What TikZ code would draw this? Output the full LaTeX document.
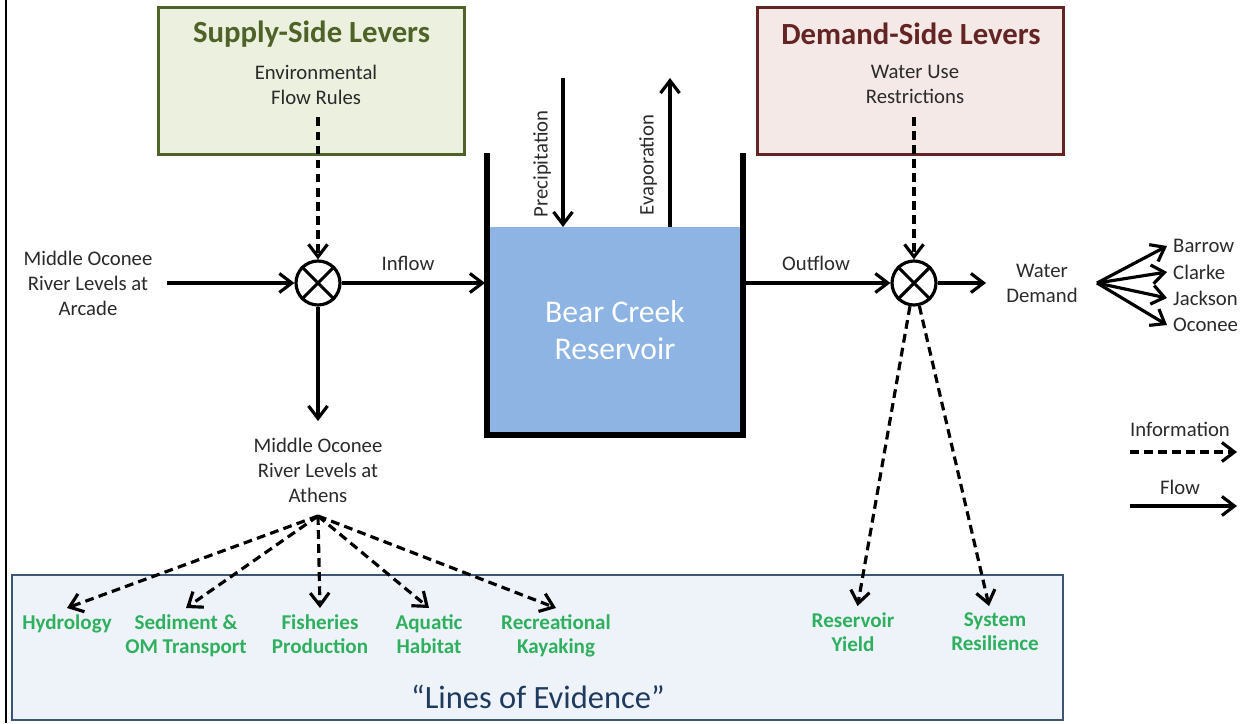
\documentclass[tikz,border=0pt]{standalone}
\usepackage{fontspec}
\setmainfont{Carlito}
\usetikzlibrary{arrows.meta}

\definecolor{supplyline}{HTML}{4F6228}
\definecolor{supplyfill}{HTML}{EBF1DE}
\definecolor{demandline}{HTML}{632523}
\definecolor{demandfill}{HTML}{F5E9E8}
\definecolor{evidline}{HTML}{3B5573}
\definecolor{evidfill}{HTML}{EEF3FA}
\definecolor{evidtext}{HTML}{1F3A5F}
\definecolor{evidgreen}{HTML}{2FB05E}
\definecolor{water}{HTML}{8DB4E2}
\definecolor{textgray}{HTML}{2A2A2A}

\tikzset{
    txt/.style={align=center, text=textgray, font=\fontsize{11.8}{14.2}\selectfont},
    title/.style={font=\fontsize{17.5}{20}\selectfont\bfseries},
    lever/.style={draw, line width=1.7pt, minimum width=6.12cm, minimum height=2.96cm},
    mult/.style={circle, draw, line width=1.8pt, minimum size=0.88cm, inner sep=0},
    flow/.style={line width=1.8pt, -{Straight Barb[length=2.5mm,width=3.8mm]}},
    info/.style={flow, dash pattern=on 5pt off 3pt},
    evid/.style={txt, text=evidgreen, font=\fontsize{12}{14.2}\selectfont\bfseries, anchor=north}
}

\begin{document}
\begin{tikzpicture}[x=0.02cm, y=-0.02cm]
    \useasboundingbox (0,0) rectangle (1253,723);
    \draw[line width=1.5pt] (6,0) -- (6,723);

    % lever boxes and evidence box
    \node[lever, draw=supplyline, fill=supplyfill] (supply) at (311.5,81) {};
    \node[lever, draw=demandline, fill=demandfill] (demand) at (910.5,81) {};
    \node[draw=evidline, fill=evidfill, line width=1.4pt, minimum width=21.02cm, minimum height=2.9cm] (evidence) at (537.5,647.5) {};
    \node[title, text=supplyline] (supplyT) at (311.5,34) {Supply-Side Levers};
    \node[title, text=demandline] (demandT) at (911,34) {Demand-Side Levers};
    \node[txt] (rules) at (316,84.5) {Environmental\\Flow Rules};
    \node[txt] (restrict) at (915,84.5) {Water Use\\Restrictions};
    \node[font=\fontsize{18.5}{22}\selectfont, text=evidtext] (loe) at (538,697) {“Lines of Evidence”};

    % reservoir
    \node[fill=water, minimum width=5cm, minimum height=4.12cm, text=white, align=center,
          font=\fontsize{18}{21}\selectfont] (res) at (615,330) {Bear Creek\\Reservoir};
    \draw[line width=3.8pt] (487,153) -- (487,435) -- (743,435) -- (743,153);
    \coordinate (rainTop) at (563,78);
    \coordinate (rainIn) at (563,227);
    \coordinate (evapOut) at (670,227);
    \coordinate (evapTop) at (670,78);
    \coordinate (resIn) at (485,283);
    \coordinate (resOut) at (745,283);
    \node[txt, rotate=90] (precipL) at (542,164) {Precipitation};
    \node[txt, rotate=90] (evapL) at (648,165) {Evaporation};

    % flow path
    \node[txt] (arcade) at (88,283) {Middle Oconee\\River Levels at\\Arcade};
    \node[mult] (mixA) at (318,283) {};
    \node[mult] (mixB) at (914,283) {};
    \draw[line width=1.8pt] (mixA.north east) -- (mixA.south west) (mixA.north west) -- (mixA.south east);
    \draw[line width=1.8pt] (mixB.north east) -- (mixB.south west) (mixB.north west) -- (mixB.south east);
    \node[txt] (athens) at (318,470) {Middle Oconee\\River Levels at\\Athens};
    \node[txt] (wdemand) at (1042,283) {Water\\Demand};
    \node[txt] (inflowL) at (408,263) {Inflow};
    \node[txt] (outflowL) at (816,263) {Outflow};
    \coordinate (fanA) at (318,516);
    \coordinate (fanB) at (1097,283);

    % counties
    \node[txt, anchor=west] (barrow) at (1167,246) {Barrow};
    \node[txt, anchor=west] (clarke) at (1167,272) {Clarke};
    \node[txt, anchor=west] (jackson) at (1167,298) {Jackson};
    \node[txt, anchor=west] (oconee) at (1167,325) {Oconee};

    % lines of evidence
    \node[evid] (hydro) at (67,608) {Hydrology};
    \node[evid] (sediment) at (186,608) {Sediment \&\\OM Transport};
    \node[evid] (fish) at (320,608) {Fisheries\\Production};
    \node[evid] (habitat) at (429,608) {Aquatic\\Habitat};
    \node[evid] (kayak) at (556,608) {Recreational\\Kayaking};
    \node[evid] (yield) at (853,606) {Reservoir\\Yield};
    \node[evid] (resil) at (995,606) {System\\Resilience};

    % legend
    \node[txt] (infoL) at (1180,429) {Information};
    \node[txt] (flowL) at (1180,487) {Flow};
    \coordinate (infoA) at (1130,452);
    \coordinate (infoB) at (1237,452);
    \coordinate (flowA) at (1130,506);
    \coordinate (flowB) at (1237,506);

    % connectors
    \draw[flow] (rainTop) -- (rainIn);
    \draw[flow] (evapOut) -- (evapTop);
    \draw[flow, shorten <=5pt] (arcade.east) -- (mixA);
    \draw[flow] (mixA) -- (resIn);
    \draw[flow] (resOut) -- (mixB);
    \draw[flow, shorten >=8pt] (mixB) -- (wdemand);
    \draw[flow, shorten >=6pt] (mixA) -- (athens);
    \draw[info, shorten <=4pt] (rules.south -| mixA.north) -- (mixA);
    \draw[info, shorten <=4pt] (restrict.south -| mixB.north) -- (mixB);
    \draw[flow] (fanB) -- (barrow.west);
    \draw[flow] (fanB) -- (clarke.west);
    \draw[flow] (fanB) -- (jackson.west);
    \draw[flow] (fanB) -- (oconee.west);
    \draw[info] (fanA) -- (hydro.north);
    \draw[info] (fanA) -- (sediment.north);
    \draw[info] (fanA) -- (fish.north);
    \draw[info] (fanA) -- (habitat.north);
    \draw[info] (fanA) -- (kayak.north);
    \draw[info] (mixB) -- (yield);
    \draw[info] (mixB) -- (resil);
    \draw[info] (infoA) -- (infoB);
    \draw[flow] (flowA) -- (flowB);
\end{tikzpicture}
\end{document}
